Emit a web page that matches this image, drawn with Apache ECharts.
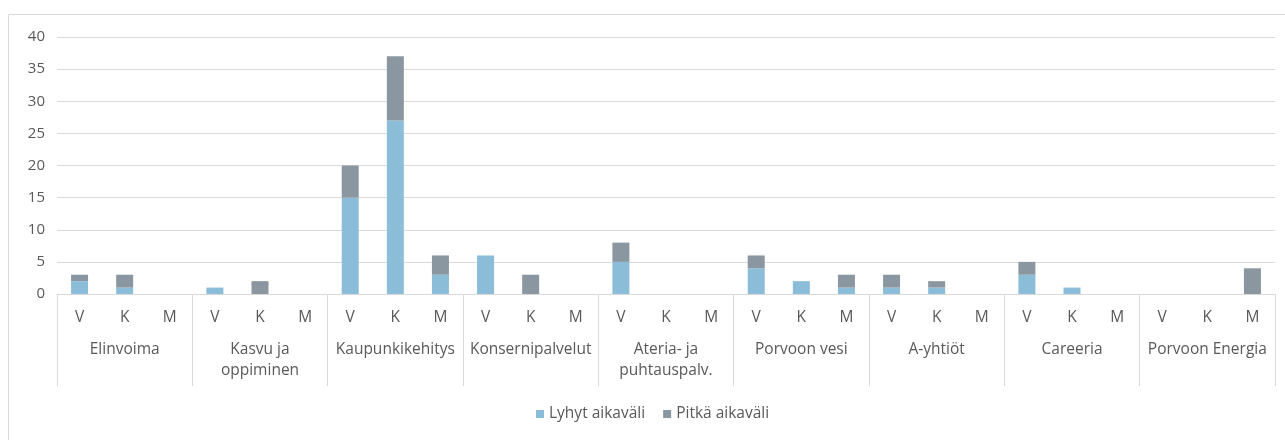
<!DOCTYPE html>
<html>
<head>
<meta charset="utf-8">
<script src="https://cdn.jsdelivr.net/npm/echarts@6/dist/echarts.min.js"></script>
<style>html,body{margin:0;padding:0;background:#fff}#c{width:1285px;height:440px}</style>
</head>
<body>
<div id="c"></div>
<script>
const groups = ['Elinvoima','Kasvu ja\noppiminen','Kaupunkikehitys','Konsernipalvelut','Ateria- ja\npuhtauspalv.','Porvoon vesi','A-yhtiöt','Careeria','Porvoon Energia'];
const subs = ['V','K','M'];
const seriesNames = ['Lyhyt aikaväli','Pitkä aikaväli'];
const lyhyt = [2,1,0, 1,0,0, 15,27,3, 6,0,0, 5,0,0, 4,2,1, 1,1,0, 3,1,0, 0,0,0];
const pitka = [1,2,0, 0,2,0, 5,10,3, 0,3,0, 3,0,0, 2,0,2, 2,1,0, 2,0,0, 0,0,4];
const yTicks = {min:0, max:40, interval:5};

const cats = [];
groups.forEach(() => subs.forEach(s => cats.push(s)));
const font = 'Open Sans, Noto Sans, sans-serif';
const txt = '#595959';
const line = '#d9d9d9';

const chart = echarts.init(document.getElementById('c'));
chart.setOption({
  animation:false,
  textStyle:{fontFamily:font},
  graphic:[{type:'rect', shape:{x:8.5,y:14.5,width:1400,height:600}, style:{fill:'none', stroke:line, lineWidth:1}, silent:true, z:-1}],
  grid:{left:57, right:10, top:37, bottom:146},
  legend:{bottom:13, left:531, icon:'rect', itemWidth:8, itemHeight:8, itemGap:18, itemTextGap:6,
    textStyle:{color:txt, fontSize:15.5, fontFamily:font}, data:seriesNames},
  xAxis:[
    {type:'category', data:cats, position:'bottom',
     axisLine:{lineStyle:{color:line}}, axisTick:{show:false},
     axisLabel:{interval:0, color:txt, fontSize:15.5, margin:16, fontFamily:font}},
    {type:'category', data:groups, position:'bottom', offset:0,
     axisLine:{show:false},
     axisTick:{show:true, interval:0, length:92, lineStyle:{color:line}},
     axisLabel:{interval:0, color:txt, fontSize:15.5, margin:45, lineHeight:21, fontFamily:font}}
  ],
  yAxis:{type:'value', min:yTicks.min, max:yTicks.max, interval:yTicks.interval,
    axisLine:{show:false}, axisTick:{show:false},
    splitLine:{lineStyle:{color:line}},
    axisLabel:{color:txt, fontSize:15, margin:12, fontFamily:font}},
  series:[
    {name:seriesNames[0], type:'bar', stack:'a', data:lyhyt, barWidth:17, xAxisIndex:0, itemStyle:{color:'#8bbdd9'}},
    {name:seriesNames[1], type:'bar', stack:'a', data:pitka, barWidth:17, xAxisIndex:0, itemStyle:{color:'#8a97a0'}}
  ]
});
</script>
</body>
</html>
